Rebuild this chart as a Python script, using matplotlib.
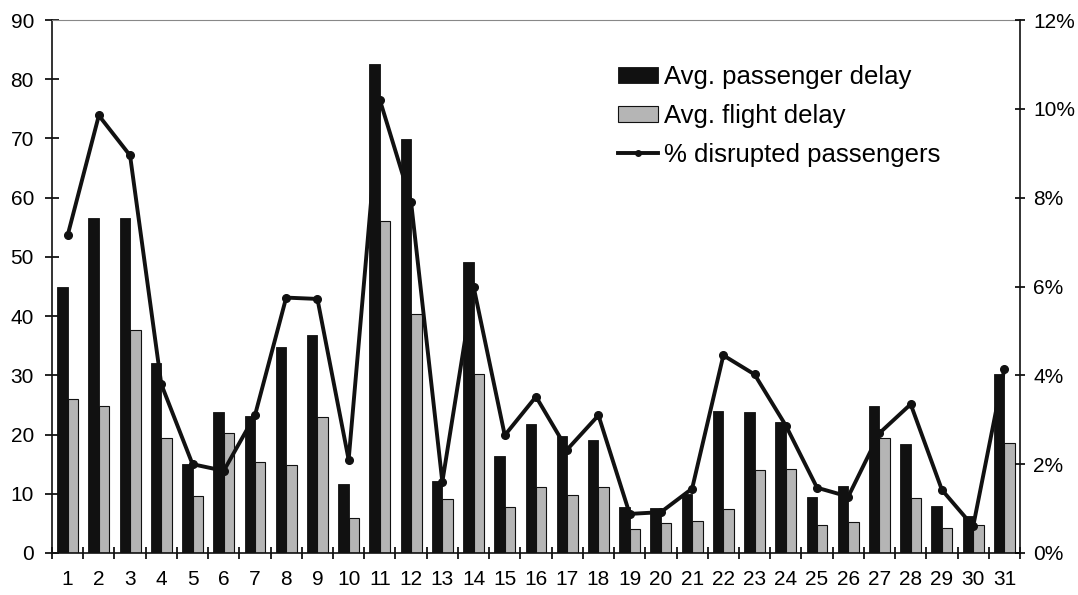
import matplotlib
matplotlib.use("Agg")
import matplotlib.pyplot as plt
import numpy as np
from matplotlib.patches import Patch
from matplotlib.lines import Line2D
from matplotlib.ticker import FuncFormatter, FixedLocator, MultipleLocator

plt.rcParams['font.family'] = ['Liberation Sans', 'DejaVu Sans']

days = list(range(1, 32))
passenger_delay = [45.0, 56.6, 56.6, 32.0, 15.1, 23.8, 23.2, 34.7, 36.8, 11.7,
                   82.6, 69.9, 12.1, 49.1, 16.3, 21.7, 19.7, 19.0, 7.8, 7.6,
                   9.9, 24.0, 23.8, 22.1, 9.5, 11.3, 24.8, 18.4, 8.0, 6.3, 30.3]
flight_delay = [26.0, 24.8, 37.7, 19.5, 9.6, 20.3, 15.3, 14.8, 22.9, 5.9,
                56.0, 40.4, 9.1, 30.2, 7.8, 11.1, 9.8, 11.2, 4.0, 5.1,
                5.4, 7.5, 14.0, 14.2, 4.7, 5.3, 19.4, 9.3, 4.2, 4.8, 18.5]
disrupted_pct = [7.15, 9.85, 8.95, 3.8, 2.0, 1.85, 3.1, 5.75, 5.72, 2.1,
                 10.2, 7.9, 1.6, 6.0, 2.65, 3.52, 2.33, 3.1, 0.88, 0.92,
                 1.45, 4.45, 4.02, 2.87, 1.47, 1.27, 2.7, 3.35, 1.42, 0.6, 4.15]

W, H = 1078, 595
fig = plt.figure(figsize=(W / 100, H / 100), dpi=100)
ax = fig.add_axes([52 / W, 1 - 553 / H, (1020 - 52) / W, (553 - 20) / H])
ax2 = ax.twinx()

x = np.array(days, dtype=float)
bw = 0.335
ax.bar(x - bw / 2, passenger_delay, width=bw, color='#111111', edgecolor='#111111',
       linewidth=0.6, zorder=2)
ax.bar(x + bw / 2, flight_delay, width=bw, color='#b5b5b5', edgecolor='#111111',
       linewidth=0.8, zorder=2)
ax2.plot(x, disrupted_pct, color='#111111', linewidth=2.8, marker='o',
         markersize=5.5, zorder=3)

ax.set_xlim(0.5, 31.5)
ax.set_ylim(0, 90)
ax2.set_ylim(0, 12)

# category labels at centres, tick marks at category boundaries
ax.xaxis.set_major_locator(FixedLocator(days))
ax.set_xticklabels([str(d) for d in days])
ax.xaxis.set_minor_locator(FixedLocator(np.arange(0.5, 32.0, 1.0)))
ax.tick_params(axis='x', which='major', length=0, pad=12, labelsize=15)
ax.tick_params(axis='x', which='minor', direction='inout', length=8, width=1.2)

ax.yaxis.set_major_locator(MultipleLocator(10))
ax.tick_params(axis='y', direction='inout', length=10, width=1.2, pad=8, labelsize=15)

ax2.yaxis.set_major_locator(MultipleLocator(2))
ax2.yaxis.set_major_formatter(FuncFormatter(lambda v, p: f"{v:.0f}%"))
ax2.tick_params(axis='y', direction='inout', length=7, width=1.2, pad=6, labelsize=15)

for sp in ['left', 'bottom']:
    ax.spines[sp].set_linewidth(1.2)
    ax.spines[sp].set_color('#111111')
ax.spines['right'].set_visible(False)
ax.spines['top'].set_color('#888888')
ax.spines['top'].set_linewidth(0.8)
ax.spines['top'].set_linestyle((0, (1, 1)))
ax2.spines['right'].set_linewidth(1.2)
ax2.spines['right'].set_color('#111111')
for sp in ['left', 'bottom', 'top']:
    ax2.spines[sp].set_visible(False)

handles = [
    Patch(facecolor='#111111', edgecolor='#111111', linewidth=0.6),
    Patch(facecolor='#b5b5b5', edgecolor='#111111', linewidth=0.8),
    Line2D([0], [0], color='#111111', linewidth=2.8, marker='o', markersize=4),
]
labels = ['Avg. passenger delay', 'Avg. flight delay', '% disrupted passengers']
leg = ax2.legend(handles, labels, loc='upper left',
                 bbox_to_anchor=(618 / W, 1 - 65 / H), bbox_transform=fig.transFigure,
                 frameon=False, fontsize=18.5, handlelength=1.55, handleheight=0.6,
                 handletextpad=0.25, labelspacing=0.58, borderpad=0, borderaxespad=0,
                 numpoints=1)

fig.savefig('out.png', dpi=100)
